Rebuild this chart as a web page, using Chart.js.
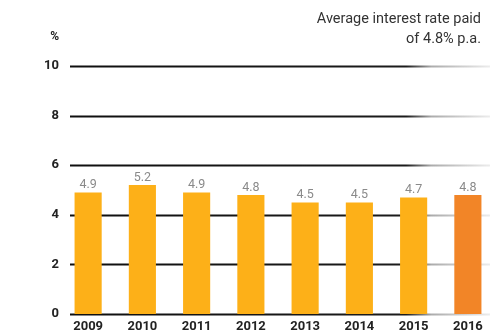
<!DOCTYPE html>
<html>
<head>
<meta charset="utf-8">
<script src="https://cdn.jsdelivr.net/npm/chart.js@4/dist/chart.umd.min.js"></script>
<style>
  html, body { margin: 0; padding: 0; background: #fff; }
  #wrap { width: 500px; height: 334px; }
</style>
</head>
<body>
<div id="wrap"><canvas id="rates"></canvas></div>
<script>
const years = ["2009", "2010", "2011", "2012", "2013", "2014", "2015", "2016"];
const rates = [4.9, 5.2, 4.9, 4.8, 4.5, 4.5, 4.7, 4.8];
const yTicks = [0, 2, 4, 6, 8, 10];
const noteLines = ["Average interest rate paid", "of 4.8% p.a."];

const barColors = years.map((y) => (y === "2016" ? "#f28527" : "#fdb018"));

// hand-drawn looking rules across the plot, fading out on the right
const roughGrid = {
  id: "roughGrid",
  beforeDatasetsDraw(chart) {
    const { ctx, chartArea, scales } = chart;
    const x0 = chartArea.left + 9;
    const x1 = chartArea.right - 5;
    const grad = ctx.createLinearGradient(x0, 0, x1, 0);
    grad.addColorStop(0, "rgba(15,15,15,1)");
    grad.addColorStop(0.8, "rgba(15,15,15,0.95)");
    grad.addColorStop(0.86, "rgba(15,15,15,0.35)");
    grad.addColorStop(1, "rgba(15,15,15,0.08)");
    ctx.save();
    ctx.strokeStyle = grad;
    yTicks.forEach((v) => {
      const y = Math.round(scales.y.getPixelForValue(v)) + 0.5;
      ctx.lineWidth = 2.2;
      ctx.beginPath();
      ctx.moveTo(x0, y);
      ctx.lineTo(x1, y);
      ctx.stroke();
    });
    ctx.restore();
  },
  afterDraw(chart) {
    const { ctx } = chart;
    ctx.save();
    ctx.fillStyle = "#333";
    ctx.font = "14.5px Roboto";
    ctx.textAlign = "right";
    ctx.textBaseline = "middle";
    ctx.fillText(noteLines[0], 481, 19);
    ctx.fillText(noteLines[1], 481, 39);
    ctx.fillStyle = "#222";
    ctx.font = "bold 12px Roboto";
    ctx.fillText("%", 59, 37);
    ctx.restore();
  },
};

// value above each bar
const barValues = {
  id: "barValues",
  afterDatasetsDraw(chart) {
    const { ctx } = chart;
    const meta = chart.getDatasetMeta(0);
    ctx.save();
    ctx.fillStyle = "#8a8a8a";
    ctx.font = "12.5px Roboto";
    ctx.textAlign = "center";
    ctx.textBaseline = "bottom";
    meta.data.forEach((bar, i) => {
      ctx.fillText(rates[i].toFixed(1), bar.x, bar.y - 1);
    });
    ctx.restore();
  },
};

new Chart(document.getElementById("rates").getContext("2d"), {
  type: "bar",
  data: {
    labels: years,
    datasets: [
      {
        data: rates,
        backgroundColor: barColors,
        borderWidth: 0,
        barPercentage: 0.5,
        categoryPercentage: 1,
      },
    ],
  },
  options: {
    responsive: true,
    maintainAspectRatio: false,
    animation: false,
    layout: { padding: { top: 66, right: 5, left: 0, bottom: 0 } },
    scales: {
      x: {
        grid: { display: false, drawTicks: false },
        border: { display: false },
        ticks: { color: "#222", font: { family: "Roboto", size: 13, weight: "bold" }, padding: 5 },
        afterFit(scale) { scale.height = 20; },
      },
      y: {
        min: 0,
        max: 10,
        grid: { display: false, drawTicks: false },
        border: { display: false },
        afterBuildTicks(scale) { scale.ticks = yTicks.map((v) => ({ value: v })); },
        ticks: { color: "#222", font: { family: "Roboto", size: 13, weight: "bold" }, padding: 2 },
        afterFit(scale) { scale.width = 61; },
      },
    },
    plugins: {
      legend: { display: false },
      tooltip: { enabled: false },
    },
  },
  plugins: [roughGrid, barValues],
});
</script>
</body>
</html>
